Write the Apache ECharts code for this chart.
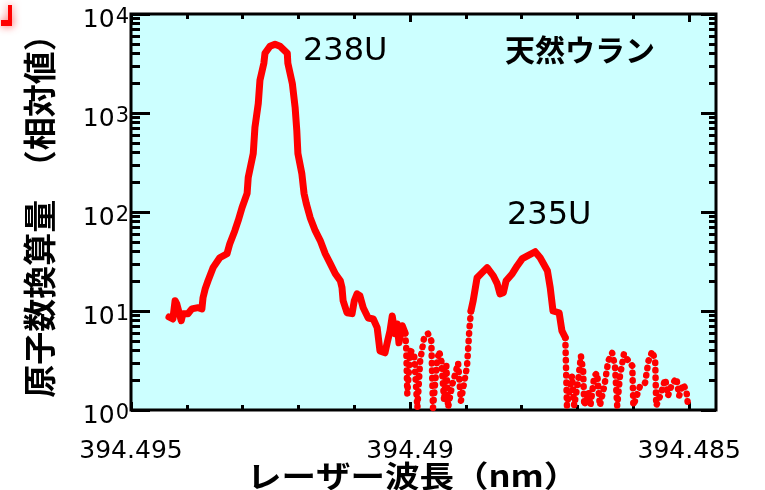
<!DOCTYPE html>
<html>
<head>
<meta charset="utf-8">
<script src="https://cdn.jsdelivr.net/npm/echarts@6/dist/echarts.min.js"></script>
<style>
html,body{margin:0;padding:0;background:#fff;}
#chart{width:765px;height:490px;}
</style>
</head>
<body>
<div id="chart"></div>
<script>
// ---- data (wavelength in nm, relative atom count) ----
var wl238 = [394.49432,394.49425,394.49421,394.49418,394.49410,394.49407,394.49398,394.49391,394.49380,394.49373,394.49371,394.49367,394.49362,394.49353,394.49341,394.49328,394.49323,394.49314,394.49308,394.49301,394.49292,394.49290,394.49281,394.49278,394.49272,394.49269,394.49262,394.49260,394.49251,394.49242,394.49233,394.49220,394.49219,394.49211,394.49206,394.49203,394.49201,394.49194,394.49190,394.49186,394.49179,394.49170,394.49161,394.49152,394.49143,394.49134,394.49125,394.49122,394.49120,394.49113,394.49104,394.49100,394.49095,394.49090,394.49084,394.49075,394.49066,394.49059,394.49054,394.49045,394.49041,394.49036,394.49032,394.49027,394.49023,394.49020,394.49014,394.49009];
var val238 = [8.7,8.3,12.7,11.8,8.0,9.4,9.4,10.5,10.8,10.5,13.6,16.8,20.2,27.4,34.5,37.9,47.9,64.8,81.8,111,154,223,390,715,1250,2140,3180,4010,4720,4950,4720,4010,3180,1990,1140,667,390,245,154,122,87.7,64.8,51.4,37.9,30.1,23.8,20.2,17.2,12.7,9.6,9.4,12.7,14.9,14.3,10.8,8.5,8.3,6.8,3.95,3.78,4.77,6.3,8.9,5.9,7.4,4.77,7.1,6.0];

var wlNoiseA = [394.49009,394.49007,394.49005,394.49000,394.48993,394.48987,394.48982,394.48975,394.48968,394.48962,394.48959,394.48952,394.48948,394.48944,394.48939,394.48935,394.48932,394.48925,394.48914,394.48909,394.48901,394.48898,394.48894,394.48891];
var valNoiseA = [6.0,4.4,1.45,3.95,3.78,1.05,3.13,5.36,5.9,5.0,1.05,2.99,3.95,3.13,1.23,2.79,1.05,1.75,2.99,1.23,2.21,2.79,6.3,10.0];

var wl235 = [394.48891,394.48887,394.48880,394.48871,394.48862,394.48851,394.48844,394.48839,394.48833,394.48828,394.48817,394.48808,394.48799,394.48789,394.48776,394.48767,394.48754,394.48749,394.48744,394.48733,394.48728,394.48722];
var val235 = [10.0,12.7,21.7,24.4,27.4,22.7,18.9,14.9,15.3,20.2,23.8,28.7,33.8,36.2,39.7,34.5,25.5,17.2,10.0,9.6,6.3,5.4];

var wlNoiseB = [394.48722,394.48719,394.48710,394.48706,394.48699,394.48694,394.48690,394.48688,394.48681,394.48677,394.48670,394.48665,394.48660,394.48652,394.48645,394.48638,394.48633,394.48629,394.48624,394.48617,394.48609,394.48602,394.48600,394.48588,394.48579,394.48573,394.48566,394.48561,394.48559,394.48552,394.48543,394.48538,394.48532,394.48523,394.48518,394.48511,394.48505,394.48502];
var valNoiseB = [5.4,1.1,2.21,1.1,1.97,3.52,2.48,1.1,1.56,1.1,2.21,2.37,1.1,1.75,3.13,3.78,2.79,1.1,2.21,3.69,3.13,2.79,1.1,1.75,1.88,3.13,3.95,3.13,1.1,1.39,2.06,1.39,1.75,2.11,1.39,1.83,1.56,1.1];

var xMajorTicks = [394.495, 394.49, 394.485];
var xMinorTicks = [394.494,394.493,394.492,394.491,394.489,394.488,394.487,394.486];
var yMajorTicks = [1, 10, 100, 1000, 10000];
var yMinorTicks = [2,3,4,5,6,7,8,9,20,30,40,50,60,70,80,90,200,300,400,500,600,700,800,900,2000,3000,4000,5000,6000,7000,8000,9000];

var xMin = 394.48452, xMax = 394.495;
var yMin = 1, yMax = 10000;

function zip(a, b) { return a.map(function (v, i) { return [v, b[i]]; }); }

var chart = echarts.init(document.getElementById('chart'), null, {renderer: 'canvas'});

function xAxisDef(pos, ticks, len, withLabels) {
  return {
    type: 'value', position: pos, inverse: true, min: xMin, max: xMax,
    axisLine: {show: false},
    splitLine: {show: false},
    axisTick: {show: true, inside: true, length: len, customValues: ticks,
               lineStyle: {color: '#000', width: 3}},
    axisLabel: withLabels ? {
      show: true, customValues: ticks, margin: 29,
      fontFamily: 'DejaVu Sans', fontSize: 25, color: '#000',
      formatter: function (v) { return String(+v.toFixed(3)); }
    } : {show: false}
  };
}
function yAxisDef(pos, ticks, len, withLabels) {
  return {
    type: 'log', logBase: 10, position: pos, min: yMin, max: yMax,
    axisLine: {show: false},
    splitLine: {show: false},
    minorTick: {show: false},
    axisTick: {show: true, inside: true, length: len, customValues: ticks,
               lineStyle: {color: '#000', width: 3}},
    axisLabel: withLabels ? {
      show: true, customValues: ticks, margin: 2,
      padding: [12, 0, 0, 0],
      formatter: function (v) {
        var e = Math.round(Math.log10(v));
        return '{b|10}{s|' + e + '}';
      },
      rich: {
        b: {fontFamily: 'DejaVu Sans', fontSize: 25, lineHeight: 25, verticalAlign: 'bottom', color: '#000'},
        s: {fontFamily: 'DejaVu Sans', fontSize: 21, lineHeight: 25, verticalAlign: 'top', padding: [0, 0, 8, 1], color: '#000'}
      }
    } : {show: false}
  };
}

var solidStyle = {color: '#ff0000', width: 7, cap: 'round', join: 'round'};
var dotStyle = {color: '#ff0000', width: 6.5, cap: 'round', join: 'round', type: [0.5, 7]};

chart.setOption({
  animation: false,
  backgroundColor: '#ffffff',
  grid: {left: 131, right: 49, top: 14, bottom: 80, show: true,
         backgroundColor: '#ccffff', borderColor: '#000', borderWidth: 3},
  xAxis: [
    xAxisDef('bottom', xMajorTicks, 8, true),
    xAxisDef('bottom', xMinorTicks, 5, false),
    xAxisDef('top', xMajorTicks, 8, false),
    xAxisDef('top', xMinorTicks, 5, false)
  ],
  yAxis: [
    yAxisDef('left', yMajorTicks, 19, true),
    yAxisDef('left', yMinorTicks, 9, false),
    yAxisDef('right', yMajorTicks, 15, false),
    yAxisDef('right', yMinorTicks, 7, false)
  ],
  series: [
    {type: 'line', name: '238U', data: zip(wl238, val238), showSymbol: false, lineStyle: solidStyle, z: 3},
    {type: 'line', name: 'noiseA', data: zip(wlNoiseA, valNoiseA), showSymbol: false, lineStyle: dotStyle, z: 3},
    {type: 'line', name: '235U', data: zip(wl235, val235), showSymbol: false, lineStyle: solidStyle, z: 3},
    {type: 'line', name: 'noiseB', data: zip(wlNoiseB, valNoiseB), showSymbol: false, lineStyle: dotStyle, z: 3}
  ],
  graphic: [
    {type: 'text', x: 303, y: 52, style: {text: '238U', font: '32px "DejaVu Sans"', fill: '#000', textAlign: 'left', textVerticalAlign: 'middle'}},
    {type: 'text', x: 507, y: 216, style: {text: '235U', font: '32px "DejaVu Sans"', fill: '#000', textAlign: 'left', textVerticalAlign: 'middle'}},
    {type: 'text', x: 505, y: 50, style: {text: '天然ウラン', font: 'bold 30px "Noto Sans CJK JP"', fill: '#000', textAlign: 'left', textVerticalAlign: 'middle'}},
    {type: 'text', x: 39, y: 208, rotation: Math.PI / 2, style: {text: '原子数換算量　（相対値）', font: 'bold 33px "Noto Sans CJK JP"', fill: '#000', textAlign: 'center', textVerticalAlign: 'middle'}},
    {type: 'text', x: 247, y: 476, scaleX: 1.15, style: {text: 'レーザー波長（nm）', font: 'bold 30px "Noto Sans CJK JP"', fill: '#000', textAlign: 'left', textVerticalAlign: 'middle'}},
    {type: 'rect', shape: {x: 8, y: 5, width: 4, height: 20}, style: {fill: '#ff0000', shadowBlur: 8, shadowColor: 'rgba(255,0,0,0.6)'}},
    {type: 'rect', shape: {x: 1, y: 20, width: 11, height: 6}, style: {fill: '#ff0000', shadowBlur: 8, shadowColor: 'rgba(255,0,0,0.6)'}}
  ]
});
</script>
</body>
</html>
